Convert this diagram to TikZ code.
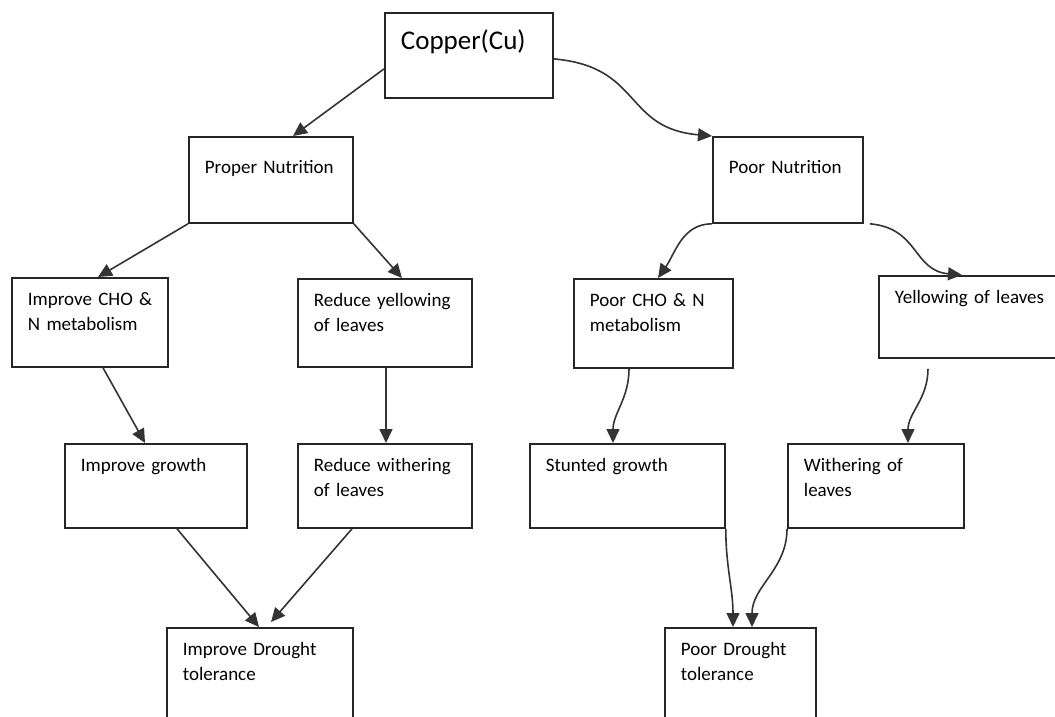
\documentclass[tikz,border=0pt]{standalone}
\usepackage{fontspec}
\setmainfont{Carlito}
\usetikzlibrary{arrows.meta}

\begin{document}
\begin{tikzpicture}[x=0.5pt,y=-0.5pt]
    \tikzset{% This is the style settings for boxes and arrows
    box/.style={draw=black!85, line width=0.9pt, anchor=north west, align=left,
        inner xsep=8pt, inner ysep=7pt, text height=7pt,
        font=\fontsize{9.5}{12.5}\selectfont},
    topbox/.style={box, text height=11.5pt},
    con/.style={-{Triangle[length=7pt,width=6.5pt]}, line width=0.8pt, black!80},
    }
    \useasboundingbox (0,0) rectangle (1055,717);

    % Nodes
    \node[topbox, text width=68pt, text depth=17pt, font=\fontsize{13.5}{16}\selectfont] (cu) at (384,12) {Copper(Cu)};
    \node[topbox, text width=66pt, text depth=17.5pt] (proper) at (188,136) {\mbox{Proper Nutrition}};
    \node[topbox, text width=59pt, text depth=17.5pt] (poor) at (712,136) {\mbox{Poor Nutrition}};

    \node[box, text width=62pt, text depth=23.5pt] (impcho) at (11,277) {\mbox{Improve CHO \&}\\N metabolism};
    \node[box, text width=71pt, text depth=23pt] (redyel) at (297,278) {\mbox{Reduce yellowing}\\of leaves};
    \node[box, text width=63.5pt, text depth=23.5pt] (poorcho) at (573,278) {\mbox{Poor CHO \& N}\\metabolism};
    \node[box, text width=79pt, text depth=20pt] (yel) at (878,275) {\mbox{Yellowing of leaves}};

    \node[box, text width=75pt, text depth=21pt] (impgrow) at (64,443) {Improve growth};
    \node[box, text width=71pt, text depth=21pt] (redwith) at (297,443) {\mbox{Reduce withering}\\of leaves};
    \node[box, text width=81.5pt, text depth=21pt] (stunt) at (529,443) {Stunted growth};
    \node[box, text width=72pt, text depth=21pt] (with) at (787,443) {Withering of\\leaves};

    \node[box, text width=77pt, text depth=39pt] (impdrought) at (166,627) {\mbox{Improve Drought}\\tolerance};
    \node[box, text width=59.5pt, text depth=39pt] (poordrought) at (664,627) {\mbox{Poor Drought}\\tolerance};

    %Edges
    \draw[con] ([yshift=-6.75pt]cu.west) -- ([xshift=52.5pt]proper.north west);
    \draw[con] ([yshift=-1.75pt]cu.east) to[out=-5, in=175, looseness=1.3] (poor.north west);
    \draw[con] (proper.south west) -- ([xshift=43.5pt]impcho.north west);
    \draw[con] (proper.south east) -- ([xshift=52.5pt]redyel.north west);
    \draw[con] (poor.south west) to[out=180, in=55] ([xshift=42.5pt]poorcho.north west);
    \draw[con] ([xshift=3pt]poor.south east) to[out=-5, in=175, looseness=1.2] ([xshift=42pt]yel.north west);

    \draw[con] ([xshift=46pt]impcho.south west) -- ([xshift=40.5pt]impgrow.north west);
    \draw[con] ([xshift=44.5pt]redyel.south west) -- ([xshift=44.5pt]redwith.north west);
    \draw[con] ([xshift=28pt]poorcho.south west) to[out=-90, in=90] ([xshift=42pt]stunt.north west);
    \draw[con] ([xshift=25pt, yshift=-5pt]yel.south west) to[out=-90, in=90] ([xshift=60.5pt]with.north west);

    \draw[con] ([xshift=56.5pt]impgrow.south west) -- ([xshift=46.5pt]impdrought.north west);
    \draw[con] ([xshift=27.5pt]redwith.south west) -- ([xshift=52.5pt, yshift=2.5pt]impdrought.north west);
    \draw[con] (stunt.south east) to[out=-90, in=90] ([xshift=34.5pt]poordrought.north west);
    \draw[con] (with.south west) to[out=-90, in=90] ([xshift=44pt]poordrought.north west);

\end{tikzpicture}
\end{document}
